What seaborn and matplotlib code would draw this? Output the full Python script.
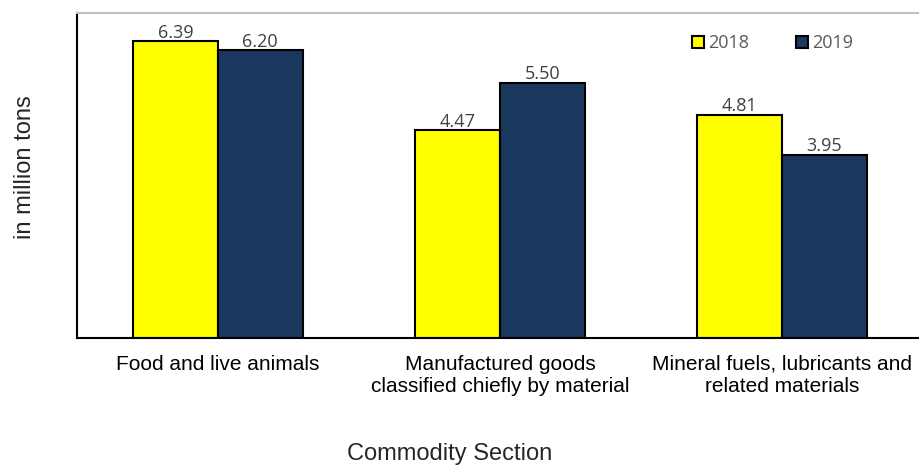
import pandas as pd
import matplotlib.pyplot as plt
import seaborn as sns
from matplotlib.patches import Patch

# Data
sections = ['Food and live animals',
            'Manufactured goods\nclassified chiefly by material',
            'Mineral fuels, lubricants and\nrelated materials']
years = ['2018', '2019']
values_2018 = [6.39, 4.47, 4.81]
values_2019 = [6.20, 5.50, 3.95]
colors = ['#ffff00', '#1a375e']

df = pd.DataFrame({
    'Section': sections * 2,
    'Year': [years[0]] * 3 + [years[1]] * 3,
    'Value': values_2018 + values_2019,
})

sns.set_style('white')
plt.rcParams['font.family'] = ['Liberation Sans', 'DejaVu Sans']

fig = plt.figure(figsize=(9.2, 4.66), dpi=100)
ax = fig.add_axes([0.0837, 0.2747, 0.9196, 0.6974])

sns.barplot(data=df, x='Section', y='Value', hue='Year', palette=colors,
            saturation=1, width=0.6, edgecolor='black', linewidth=1.5,
            gap=0, ax=ax, legend=False)

# value labels
for cont in ax.containers:
    ax.bar_label(cont, fmt='%.2f', padding=-0.5, fontsize=13,
                 color='#404040', family='Open Sans')

ax.set_ylim(0, 7)
ax.set_xlim(-0.5, 2.5)
ax.set_yticks([])
ax.tick_params(axis='x', length=0, labelsize=15, pad=12, colors='black')
for lab in ax.get_xticklabels():
    lab.set_linespacing(1.25)
ax.set_ylabel('in million tons', fontsize=17)
ax.yaxis.set_label_coords(-0.049, 0.526)
ax.set_xlabel('Commodity Section', fontsize=17)
ax.xaxis.set_label_coords(0.441, -0.322)

for s in ['left', 'bottom']:
    ax.spines[s].set_color('black')
    ax.spines[s].set_linewidth(1.5)
ax.spines['top'].set_color('#bfbfbf')
ax.spines['top'].set_linewidth(1.5)
ax.spines['right'].set_visible(False)

handles = [Patch(facecolor=c, edgecolor='black', linewidth=1.5) for c in colors]
leg = ax.legend(handles, years, loc='center', bbox_to_anchor=(0.822, 0.908),
                ncol=2, frameon=False, handlelength=0.65,
                handleheight=0.65, handletextpad=0.25, columnspacing=2.6,
                prop={'family': 'Open Sans', 'size': 13})
for t in leg.get_texts():
    t.set_color('#595959')

fig.savefig('out.png', dpi=100)
